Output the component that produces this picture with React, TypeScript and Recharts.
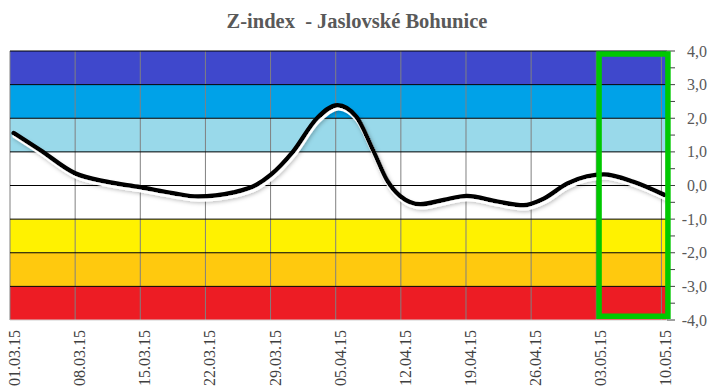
import React from 'react';
import { LineChart, Line, XAxis, YAxis, ReferenceArea, ReferenceLine } from 'recharts';

const title = 'Z-index  - Jaslovské Bohunice';
const tickDays = [0, 7, 14, 21, 28, 35, 42, 49, 56, 63, 70];
const tickLabels = ['01.03.15', '08.03.15', '15.03.15', '22.03.15', '29.03.15', '05.04.15', '12.04.15', '19.04.15', '26.04.15', '03.05.15', '10.05.15'];
const days = [0.4, 3.2, 7.0, 10.4, 14.0, 17.5, 20.2, 24.0, 26.5, 28.0, 30.4, 33.0, 35.2, 37.2, 39.1, 40.5, 41.9, 44.1, 46.6, 49.1, 52.4, 55.2, 57.3, 59.9, 62.0, 63.8, 67.0, 70.3];
const zValues = [1.56, 1.06, 0.36, 0.11, -0.05, -0.23, -0.33, -0.21, 0.02, 0.31, 1.0, 2.0, 2.39, 2.05, 1.0, 0.16, -0.31, -0.56, -0.43, -0.31, -0.48, -0.59, -0.4, 0.06, 0.27, 0.33, 0.11, -0.28];
const yTicks = [-4, -3.5, -3, -2.5, -2, -1.5, -1, -0.5, 0, 0.5, 1, 1.5, 2, 2.5, 3, 3.5, 4];
const bandLows = [3, 2, 1, -1, -2, -3];
const bandHighs = [4, 3, 2, 1, -1, -2];
const bandColors = ['#3F48CC', '#00A2E8', '#99D9EA', '#FFFFFF', '#FFF200', '#FFC90E'];
const redBand = [-4, -3];
const hLines = [-3, -2, -1, 0, 1, 2, 3, 4];
const highlight = { x1: 63.3, x2: 70.7, y1: -3.89, y2: 3.91 };

const data = days.map((d, i) => ({ day: d, z: zValues[i] }));

const FONT = '"Liberation Serif", "Times New Roman", Times, serif';

const XTick = (props: any) => {
  const { x, payload } = props;
  const i = tickDays.indexOf(payload.value);
  return (
    <text
      transform={`translate(${x + 10},330) rotate(-90)`}
      textAnchor="end"
      fill="#404040"
      fontSize={16}
      style={{ fontFamily: FONT }}
    >
      {i >= 0 ? tickLabels[i] : ''}
    </text>
  );
};

const YTick = (props: any) => {
  const { y, payload } = props;
  const v = payload.value;
  if (!Number.isInteger(v)) return <g />;
  return (
    <text x={707} y={y} dy="0.35em" textAnchor="end" fill="#595959" fontSize={16} style={{ fontFamily: FONT }}>
      {v.toFixed(1).replace('.', ',')}
    </text>
  );
};

export default function App() {
  return (
    <div style={{ position: 'absolute', left: 0, top: 0, width: 714, height: 390, background: '#fff' }}>
      <div
        style={{
          position: 'absolute', left: 0, top: 9, width: 714, textAlign: 'center',
          fontFamily: FONT, fontWeight: 'bold', fontSize: 20.5, color: '#595959',
          whiteSpace: 'pre', lineHeight: '24px',
        }}
      >
        {title}
      </div>
      <LineChart width={714} height={390} data={data} margin={{ top: 51, right: 0, left: 10, bottom: 0 }}>
        <defs>
          <filter id="zsh" filterUnits="userSpaceOnUse" x="0" y="0" width="714" height="390">
            <feGaussianBlur in="SourceAlpha" stdDeviation="2" result="blur" />
            <feOffset in="blur" dx="2" dy="4" result="ob" />
            <feFlood floodColor="#000" floodOpacity="0.3" />
            <feComposite in2="ob" operator="in" result="gray" />
            <feOffset in="SourceAlpha" dx="1" dy="2.5" result="o1" />
            <feFlood floodColor="#fff" />
            <feComposite in2="o1" operator="in" result="white" />
            <feMerge>
              <feMergeNode in="gray" />
              <feMergeNode in="white" />
              <feMergeNode in="SourceGraphic" />
            </feMerge>
          </filter>
        </defs>
        <style>{`.zline .recharts-line-curve{filter:url(#zsh);}`}</style>
        <XAxis
          dataKey="day"
          type="number"
          domain={[0, 70.6]}
          ticks={tickDays}
          allowDataOverflow
          height={70}
          tick={<XTick />}
          tickLine={false}
          axisLine={{ stroke: '#d0d0d0' }}
          interval={0}
        />
        <YAxis
          orientation="right"
          type="number"
          domain={[-4, 4]}
          ticks={yTicks}
          width={47}
          interval={0}
          tick={<YTick />}
          tickSize={8}
          tickLine={{ stroke: '#404040' }}
          axisLine={{ stroke: '#d0d0d0' }}
        />
        {bandLows.map((lo, i) => (
          <ReferenceArea key={'b' + i} y1={lo} y2={bandHighs[i]} fill={bandColors[i]} fillOpacity={1} stroke="none" ifOverflow="visible" />
        ))}
        <ReferenceArea y1={redBand[0]} y2={redBand[1]} fill="#ED1C24" fillOpacity={1} stroke="none" ifOverflow="visible" />
        {tickDays.map((d) => (
          <ReferenceLine key={'v' + d} x={d} stroke="#808080" strokeWidth={1} ifOverflow="visible" />
        ))}
        {hLines.map((h) => (
          <ReferenceLine key={'h' + h} y={h} stroke="#000" strokeWidth={1} ifOverflow="visible" />
        ))}
        <Line
          className="zline"
          type="monotone"
          dataKey="z"
          stroke="#000"
          strokeWidth={4.5}
          dot={false}
          activeDot={false}
          isAnimationActive={false}
          strokeLinecap="round"
        />
        <ReferenceArea
          x1={highlight.x1}
          x2={highlight.x2}
          y1={highlight.y1}
          y2={highlight.y2}
          fill="none"
          fillOpacity={0}
          stroke="#00C800"
          strokeWidth={5.5}
          ifOverflow="visible"
          zIndex={1000}
        />
      </LineChart>
    </div>
  );
}
